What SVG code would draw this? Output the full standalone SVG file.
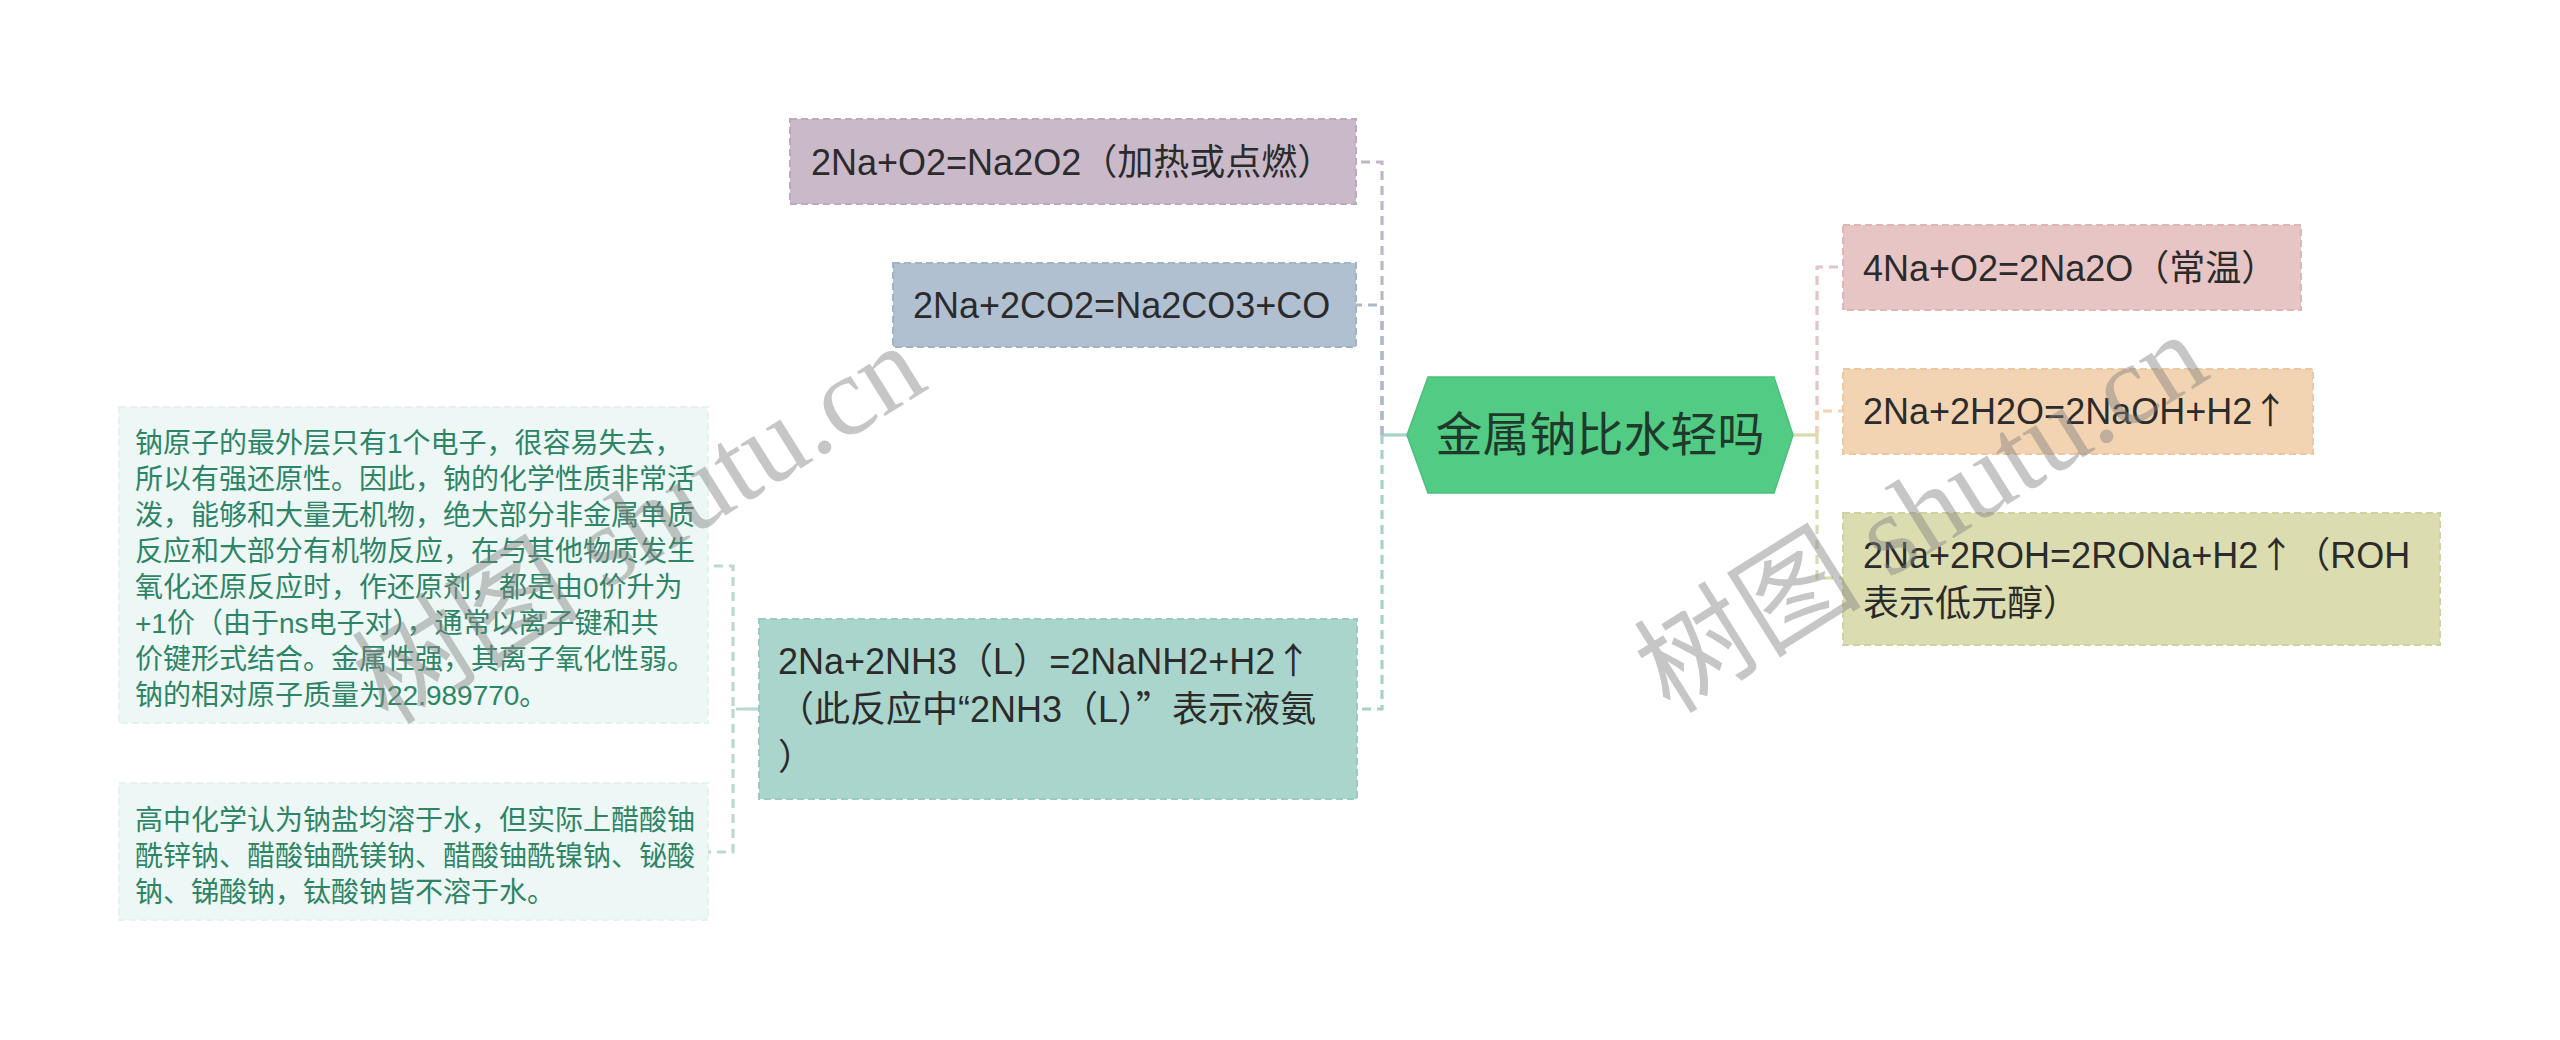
<svg xmlns="http://www.w3.org/2000/svg" width="2560" height="1040" viewBox="0 0 2560 1040">
<style>
.t{font-family:"Liberation Sans","Noto Sans CJK SC",sans-serif;font-size:36px;fill:#2b2b2b}
.cj{font-family:"Noto Sans CJK SC",sans-serif}
.lt{font-family:"Liberation Sans","Noto Sans CJK SC",sans-serif;font-size:28px;fill:#2e8566}
.ct{font-family:"Noto Sans CJK SC","Liberation Sans",sans-serif;font-size:47px;fill:#1f3a2b}
.box{stroke-width:2;stroke-dasharray:7 4}
.c{fill:none;stroke-width:3.2;stroke-dasharray:9 6}
.s{fill:none;stroke-width:3.2}
.wm{font-family:"Liberation Serif","Noto Sans CJK SC",serif;font-size:114px;fill:#808080;fill-opacity:0.45}
</style>
<rect width="2560" height="1040" fill="#ffffff"/>
<g id="connectors">
<path class="s" d="M1407,435 H1382" stroke="#a6d2c9"/>
<path class="c" d="M1382,435 V162 H1356" stroke="#c4b5c4"/>
<path class="c" d="M1382,435 V305 H1356" stroke="#abb9cb"/>
<path class="c" d="M1382,435 V709 H1356" stroke="#a6d2c9"/>
<path class="s" d="M1793,435 H1817" stroke="#d9dbad"/>
<path class="c" d="M1817,435 V267 H1843" stroke="#e6c4c4"/>
<path class="c" d="M1817,435 V411 H1843" stroke="#f2d2b0"/>
<path class="c" d="M1817,435 V578 H1843" stroke="#d9dbad"/>
<path class="s" d="M759,709 H745" stroke="#b9d9d2"/>
<path class="c" d="M745,709 H733 V566 H708" stroke="#b9d9d2"/>
<path class="c" d="M733,709 V852 H708" stroke="#b9d9d2"/>
</g>
<g id="center">
<polygon points="1407,435 1428,377 1774,377 1793,435 1774,493 1428,493" fill="#52cb84" stroke="#4bbf7b" stroke-width="1.5"/>
<text class="ct" x="1600" y="451" text-anchor="middle">金属钠比水轻吗</text>
</g>
<g id="n-purple">
<rect class="box" x="790" y="119" width="566" height="85" fill="#c9b9c9" stroke="#bcaabc"/>
<text class="t" x="811" y="175">2Na+O2=Na2O2（加热或点燃）</text>
</g>
<g id="n-blue">
<rect class="box" x="893" y="263" width="463" height="84" fill="#b1c0d1" stroke="#a3b3c6"/>
<text class="t" x="913" y="318">2Na+2CO2=Na2CO3+CO</text>
</g>
<g id="n-teal">
<rect class="box" x="759" y="619" width="598" height="180" fill="#a9d5cc" stroke="#9acac0"/>
<text class="t" x="778" y="674">2Na+2NH3（L）=2NaNH2+H2<tspan class="cj">↑</tspan></text>
<text class="t" x="778" y="722">（此反应中“2NH3（L）<tspan class="cj">”</tspan>表示液氨</text>
<text class="t" x="778" y="770">）</text>
</g>
<g id="n-left1">
<rect class="box" x="119" y="407" width="589" height="316" fill="#edf7f5" stroke="#e6f2ef"/>
<text class="lt" x="135" y="453">钠原子的最外层只有1个电子，很容易失去，</text>
<text class="lt" x="135" y="489">所以有强还原性。因此，钠的化学性质非常活</text>
<text class="lt" x="135" y="525">泼，能够和大量无机物，绝大部分非金属单质</text>
<text class="lt" x="135" y="561">反应和大部分有机物反应，在与其他物质发生</text>
<text class="lt" x="135" y="597">氧化还原反应时，作还原剂，都是由0价升为</text>
<text class="lt" x="135" y="633">+1价（由于ns电子对），通常以离子键和共</text>
<text class="lt" x="135" y="669">价键形式结合。金属性强，其离子氧化性弱。</text>
<text class="lt" x="135" y="705">钠的相对原子质量为22.989770。</text>
</g>
<g id="n-left2">
<rect class="box" x="119" y="783" width="589" height="137" fill="#edf7f5" stroke="#e6f2ef"/>
<text class="lt" x="135" y="830">高中化学认为钠盐均溶于水，但实际上醋酸铀</text>
<text class="lt" x="135" y="866">酰锌钠、醋酸铀酰镁钠、醋酸铀酰镍钠、铋酸</text>
<text class="lt" x="135" y="902">钠、锑酸钠，钛酸钠皆不溶于水。</text>
</g>
<g id="n-pink">
<rect class="box" x="1843" y="225" width="458" height="85" fill="#e8c5c5" stroke="#ddb6b6"/>
<text class="t" x="1863" y="281">4Na+O2=2Na2O（常温）</text>
</g>
<g id="n-peach">
<rect class="box" x="1843" y="369" width="470" height="85" fill="#f3d4b2" stroke="#ecc7a2"/>
<text class="t" x="1863" y="424">2Na+2H2O=2NaOH+H2<tspan class="cj">↑</tspan></text>
</g>
<g id="n-olive">
<rect class="box" x="1843" y="513" width="597" height="132" fill="#dbdcaf" stroke="#cfd19f"/>
<text class="t" x="1863" y="568">2Na+2ROH=2RONa+H2<tspan class="cj">↑</tspan>（ROH</text>
<text class="t" x="1863" y="616">表示低元醇）</text>
</g>
<g id="watermarks">
<text class="wm" transform="translate(641,527) rotate(-32)" x="0" y="35" text-anchor="middle">树图 shutu.cn</text>
<text class="wm" transform="translate(1923,516) rotate(-32)" x="0" y="35" text-anchor="middle">树图 shutu.cn</text>
</g>
</svg>
